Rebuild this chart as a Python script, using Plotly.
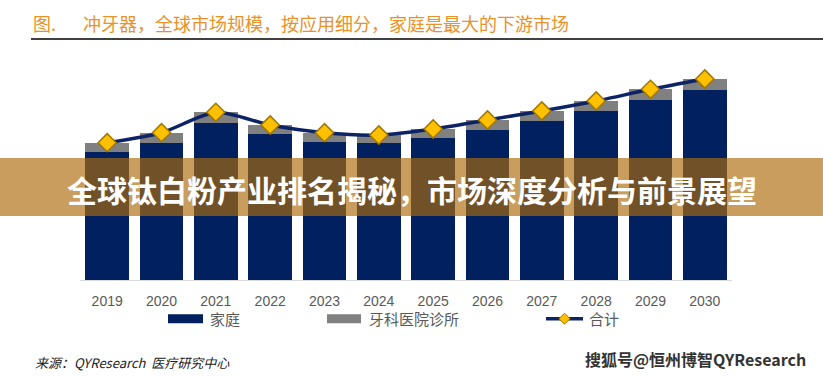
import plotly.graph_objects as go

# ---- data ----
years = ["2019", "2020", "2021", "2022", "2023", "2024",
         "2025", "2026", "2027", "2028", "2029", "2030"]
home = [1283, 1373, 1573, 1460, 1383, 1367, 1423, 1500, 1590, 1693, 1800, 1900]
dental = [90, 100, 104, 90, 90, 83, 87, 100, 100, 97, 107, 110]
total = [1373, 1473, 1677, 1550, 1473, 1450, 1510, 1600, 1690, 1790, 1907, 2010]
series_names = ["家庭", "牙科医院诊所", "合计"]
title_prefix = "图."
title_text = "冲牙器，全球市场规模，按应用细分，家庭是最大的下游市场"
banner_text = "全球钛白粉产业排名揭秘，市场深度分析与前景展望"
source_text = "来源：QYResearch  医疗研究中心"
watermark_text = "搜狐号@恒州博智QYResearch"

W, H = 823, 376
ML, MR, MT, MB = 80, 91, 50, 96
PW, PH = W - ML - MR, H - MT - MB
Y0 = MT + PH  # baseline pixel


def px(x):
    return (x - ML) / PW


def py(y):
    return (Y0 - y) / PH


NAVY = "#002060"
GRAY = "#808080"
GOLD = "#FFC000"
TXT = "#595959"
CJK = "Noto Sans CJK SC"

fig = go.Figure()
fig.add_trace(go.Bar(x=years, y=home, name=series_names[0],
                     marker=dict(color=NAVY, line=dict(width=0))))
fig.add_trace(go.Bar(x=years, y=dental, name=series_names[1],
                     marker=dict(color=GRAY, line=dict(width=0))))
fig.add_trace(go.Scatter(x=years, y=total, name=series_names[2],
                         mode="lines+markers",
                         line=dict(color="#0c2466", width=3.5, shape="spline", smoothing=0.7),
                         marker=dict(symbol="diamond", size=14, color=GOLD,
                                     line=dict(color="#a07800", width=1.5))))

shapes = []
annotations = []

# title and underline
annotations.append(dict(x=px(31), y=py(23), xref="paper", yref="paper", text=title_prefix,
                        showarrow=False, xanchor="left", yanchor="middle",
                        font=dict(family=CJK, size=18, color="#E8922A")))
annotations.append(dict(x=px(81), y=py(23), xref="paper", yref="paper", text=title_text,
                        showarrow=False, xanchor="left", yanchor="middle",
                        font=dict(family=CJK, size=18, color="#E8922A")))
shapes.append(dict(type="line", xref="paper", yref="paper", x0=px(31), x1=px(823),
                   y0=py(39), y1=py(39), line=dict(color="#000000", width=1.5)))

# custom legend
ly = 318.7
shapes.append(dict(type="rect", xref="paper", yref="paper", x0=px(168), x1=px(203),
                   y0=py(ly - 4.5), y1=py(ly + 4.5), fillcolor=NAVY, line=dict(width=0)))
annotations.append(dict(x=px(208), y=py(ly), xref="paper", yref="paper", text=series_names[0],
                        showarrow=False, xanchor="left", yanchor="middle",
                        font=dict(family=CJK, size=15, color=TXT)))
shapes.append(dict(type="rect", xref="paper", yref="paper", x0=px(327), x1=px(361),
                   y0=py(ly - 4.5), y1=py(ly + 4.5), fillcolor=GRAY, line=dict(width=0)))
annotations.append(dict(x=px(367), y=py(ly), xref="paper", yref="paper", text=series_names[1],
                        showarrow=False, xanchor="left", yanchor="middle",
                        font=dict(family=CJK, size=15, color=TXT)))
shapes.append(dict(type="line", xref="paper", yref="paper", x0=px(546), x1=px(583),
                   y0=py(ly), y1=py(ly), line=dict(color="#0c2466", width=3.5)))
cx, cy, r = 564.5, ly, 5.5
shapes.append(dict(type="path", xref="paper", yref="paper",
                   path=f"M {px(cx - r)},{py(cy)} L {px(cx)},{py(cy - r)} L {px(cx + r)},{py(cy)} L {px(cx)},{py(cy + r)} Z",
                   fillcolor=GOLD, line=dict(color="#a07800", width=1)))
annotations.append(dict(x=px(587), y=py(ly), xref="paper", yref="paper", text=series_names[2],
                        showarrow=False, xanchor="left", yanchor="middle",
                        font=dict(family=CJK, size=15, color=TXT)))

# source and watermark
annotations.append(dict(x=px(33), y=py(362), xref="paper", yref="paper", text=f"<i>{source_text}</i>",
                        showarrow=False, xanchor="left", yanchor="middle",
                        font=dict(family=CJK, size=13, color="#222222")))
annotations.append(dict(x=px(808), y=py(359), xref="paper", yref="paper", text=f"<b>{watermark_text}</b>",
                        showarrow=False, xanchor="right", yanchor="middle",
                        font=dict(family=CJK, size=16, color="#333333")))

# banner overlay
shapes.append(dict(type="rect", xref="paper", yref="paper", x0=px(0), x1=px(W),
                   y0=py(216), y1=py(158), layer="above",
                   fillcolor="rgba(172,106,10,0.66)", line=dict(width=0)))
annotations.append(dict(x=px(412), y=py(189), xref="paper", yref="paper", text=f"<b>{banner_text}</b>",
                        showarrow=False, xanchor="center", yanchor="middle",
                        font=dict(family=CJK, size=30, color="#ffffff")))

fig.update_layout(
    width=W, height=H,
    margin=dict(l=ML, r=MR, t=MT, b=MB, pad=0),
    barmode="stack", bargap=0.2,
    showlegend=False,
    plot_bgcolor="white", paper_bgcolor="white",
    shapes=shapes, annotations=annotations,
    xaxis=dict(type="category", range=[-0.5, 11.5], showgrid=False, showline=True,
               linecolor="#d9d9d9", linewidth=1, ticks="", ticklabelstandoff=8,
               tickfont=dict(family="Liberation Sans", size=14, color=TXT), fixedrange=True),
    yaxis=dict(range=[0, PH * 10], visible=False, showgrid=False, zeroline=False, fixedrange=True),
)

fig.write_html("out.html", config={"displayModeBar": False},
               post_script="document.body.style.margin='0';document.body.style.overflow='hidden';")
